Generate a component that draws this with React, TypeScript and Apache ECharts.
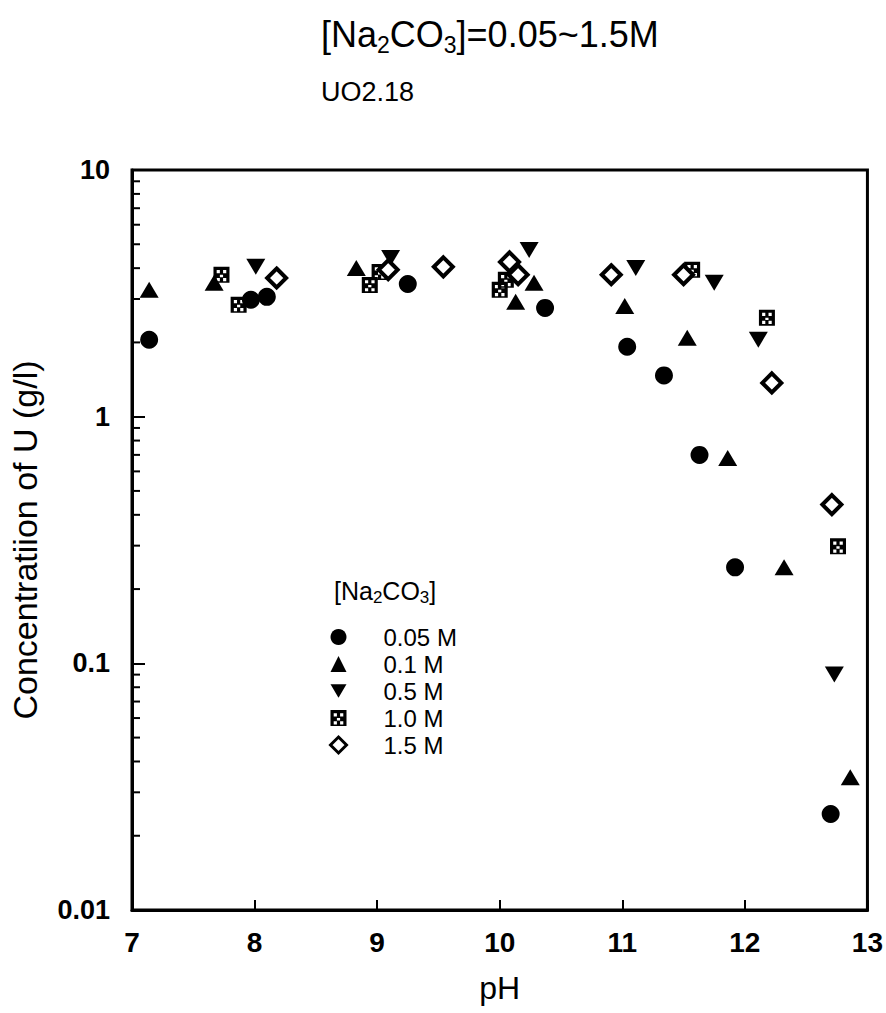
import React, { useEffect, useRef } from "react";
import * as echarts from "echarts";

const FONT = "'Liberation Sans', Arial, sans-serif";

const xTicks = [7, 8, 9, 10, 11, 12, 13];
const minorTicks = [0.02, 0.03, 0.04, 0.05, 0.06, 0.07, 0.08, 0.09, 0.2, 0.3, 0.4, 0.5, 0.6, 0.7, 0.8, 0.9, 2, 3, 4, 5, 6, 7, 8, 9];

const seriesNames = ["0.05 M", "0.1 M", "0.5 M", "1.0 M", "1.5 M"];

const ph005 = [7.14, 7.97, 8.1, 9.25, 10.37, 11.04, 11.34, 11.63, 11.92, 12.7];
const conc005 = [2.05, 2.98, 3.06, 3.45, 2.76, 1.92, 1.47, 0.7, 0.245, 0.0245];

const ph01 = [7.14, 7.67, 8.83, 10.13, 10.28, 11.02, 11.53, 11.86, 12.32, 12.86];
const conc01 = [3.27, 3.49, 4.01, 2.92, 3.49, 2.81, 2.09, 0.68, 0.245, 0.0345];

const ph05 = [8.01, 9.11, 10.24, 11.11, 11.75, 12.11, 12.73];
const conc05 = [4.05, 4.4, 4.74, 4.01, 3.49, 2.05, 0.09];

const ph10 = [7.73, 7.87, 8.94, 9.02, 10.0, 10.05, 11.57, 12.18, 12.76];
const conc10 = [3.76, 2.84, 3.42, 3.86, 3.27, 3.59, 3.94, 2.52, 0.298];

const ph15 = [8.18, 9.09, 9.54, 10.08, 10.15, 10.91, 11.5, 12.22, 12.71];
const conc15 = [3.65, 3.94, 4.05, 4.24, 3.76, 3.76, 3.76, 1.37, 0.44];

const zip = (xs: number[], ys: number[]) => xs.map((x, i) => [x, ys[i]]);

const HATCH =
  "path://M0,0L10,0L10,10L0,10Z M2,2L2,4L4,4L4,2Z M6,2L6,4L8,4L8,2Z M4,5L4,6.5L6,6.5L6,5Z M2,7L2,9L4,9L4,7Z M6,7L6,9L8,9L8,7Z";
const DOWN_TRI = "path://M0,0L12,0L6,10Z";

export default function App() {
  const ref = useRef<HTMLDivElement>(null);
  useEffect(() => {
    document.body.style.margin = "0";
    const chart = echarts.init(ref.current!, null, { renderer: "svg" });
    const black = "#000";
    const option: any = {
      animation: false,
      backgroundColor: "#fff",
      title: {
        text: "[Na{s|2}CO{s|3}]=0.05~1.5M",
        left: 316,
        top: 8,
        itemGap: 26,
        textStyle: {
          fontFamily: FONT,
          fontSize: 36,
          fontWeight: "normal",
          color: black,
          rich: { s: { fontFamily: FONT, fontSize: 23, color: black, padding: [20, 0, 0, 0] } },
        },
        subtext: "UO2.18",
        subtextStyle: { fontFamily: FONT, fontSize: 27, color: black },
      },
      grid: {
        left: 128,
        right: 18,
        top: 170,
        bottom: 103,
        show: true,
        borderColor: black,
        borderWidth: 3,
        backgroundColor: "transparent",
      },
      legend: {
        data: [
          { name: seriesNames[0] },
          { name: seriesNames[1] },
          { name: seriesNames[2], icon: DOWN_TRI },
          { name: seriesNames[3] },
          { name: seriesNames[4], itemStyle: { color: "#fff", borderColor: black, borderWidth: 3 } },
        ],
        orient: "vertical",
        left: 324,
        top: 619,
        itemWidth: 16,
        itemHeight: 16,
        itemGap: 1,
        selectedMode: false,
        textStyle: {
          fontFamily: FONT,
          fontSize: 24,
          color: black,
          lineHeight: 26,
          padding: [0, 0, 0, 32],
        },
      },
      graphic: [
        {
          type: "text",
          left: 334,
          top: 578,
          style: {
            text: "[Na{s|2}CO{s|3}]",
            fontFamily: FONT,
            fontSize: 25,
            fill: black,
            rich: { s: { fontFamily: FONT, fontSize: 17, fill: black, padding: [13, 0, 0, 0] } },
          },
        },
      ],
      xAxis: {
        type: "value",
        min: xTicks[0],
        max: xTicks[xTicks.length - 1],
        interval: 1,
        name: "pH",
        nameLocation: "middle",
        nameGap: 62,
        nameTextStyle: { fontFamily: FONT, fontSize: 32, color: black },
        axisLine: { lineStyle: { color: black, width: 3 } },
        axisTick: { inside: true, length: 10, lineStyle: { color: black, width: 2 } },
        axisLabel: { fontFamily: FONT, fontSize: 28, fontWeight: "bold", color: black, margin: 18 },
        splitLine: { show: false },
      },
      yAxis: {
        type: "log",
        logBase: 10,
        min: 0.01,
        max: 10,
        name: "Concentratiion of U (g/l)",
        nameLocation: "middle",
        nameGap: 90,
        nameRotate: 90,
        nameTextStyle: { fontFamily: FONT, fontSize: 34, color: black },
        axisLine: { lineStyle: { color: black, width: 3 } },
        axisTick: { inside: true, length: 13, lineStyle: { color: black, width: 2 } },
        axisLabel: {
          fontFamily: FONT,
          fontSize: 27,
          fontWeight: "bold",
          color: black,
          margin: 22,
          formatter: (v: number) => String(+v.toPrecision(3)),
        },
        splitLine: { show: false },
      },
      series: [
        {
          type: "custom",
          silent: true,
          data: minorTicks.map((v) => [xTicks[0], v]),
          renderItem: (params: any, api: any) => {
            const p = api.coord([api.value(0), api.value(1)]);
            return {
              type: "line",
              shape: { x1: p[0], y1: p[1], x2: p[0] + 8, y2: p[1] },
              style: { stroke: black, lineWidth: 2 },
            };
          },
          z: 1,
        },
        {
          name: seriesNames[0],
          type: "scatter",
          data: zip(ph005, conc005),
          symbol: "circle",
          symbolSize: 18,
          itemStyle: { color: black, opacity: 1 },
        },
        {
          name: seriesNames[1],
          type: "scatter",
          data: zip(ph01, conc01),
          symbol: "triangle",
          symbolSize: [19, 16],
          itemStyle: { color: black, opacity: 1 },
        },
        {
          name: seriesNames[2],
          type: "scatter",
          data: zip(ph05, conc05),
          symbol: DOWN_TRI,
          symbolSize: [19, 16],
          itemStyle: { color: black, opacity: 1 },
        },
        {
          name: seriesNames[3],
          type: "scatter",
          data: zip(ph10, conc10),
          symbol: HATCH,
          symbolSize: 16,
          itemStyle: { color: black, opacity: 1 },
        },
        {
          name: seriesNames[4],
          type: "scatter",
          data: zip(ph15, conc15),
          symbol: "diamond",
          symbolSize: 19,
          itemStyle: { color: "#fff", borderColor: black, borderWidth: 4, opacity: 1 },
        },
      ],
    };
    chart.setOption(option);
    return () => chart.dispose();
  }, []);
  return <div ref={ref} style={{ width: 886, height: 1013 }} />;
}
